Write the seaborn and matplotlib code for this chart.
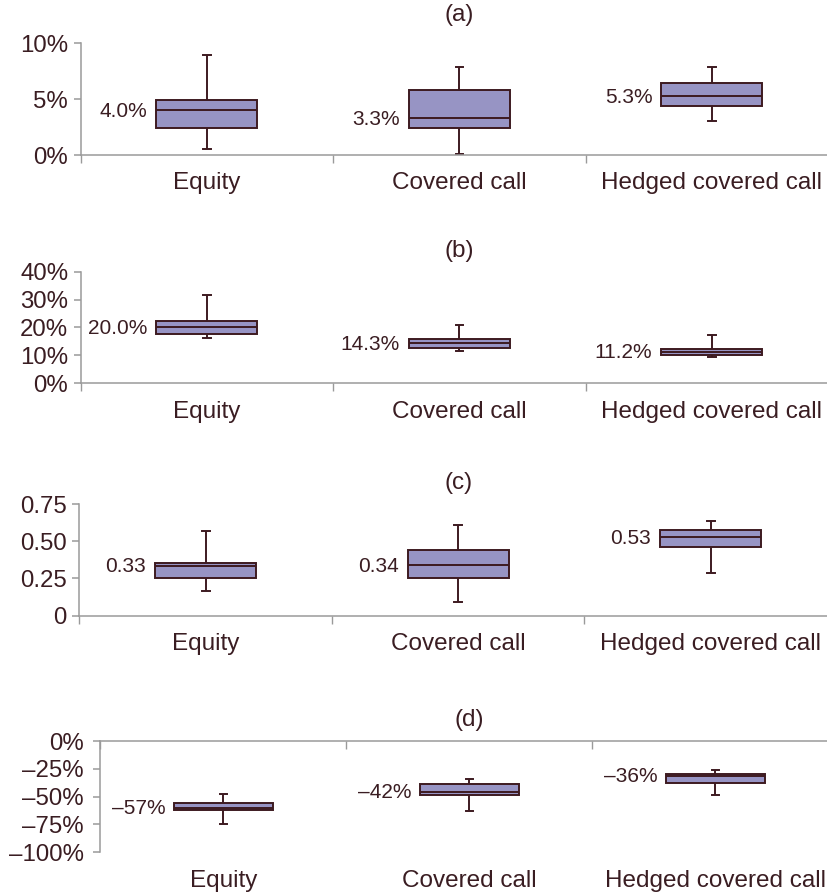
import numpy as np
import pandas as pd
import matplotlib
matplotlib.use("Agg")
import matplotlib.pyplot as plt
import seaborn as sns

# ---------------- data ----------------
categories = ["Equity", "Covered call", "Hedged covered call"]

# (a) return, %
a_low = [0.5, 0.1, 3.0]
a_q1 = [2.4, 2.4, 4.35]
a_med = [4.0, 3.3, 5.25]
a_q3 = [4.9, 5.8, 6.45]
a_high = [8.9, 7.9, 7.9]
a_labels = ["4.0%", "3.3%", "5.3%"]
a_ticks = [0, 5, 10]
a_ticklabels = ["0%", "5%", "10%"]

# (b) volatility, %
b_low = [16.2, 11.5, 9.4]
b_q1 = [17.7, 12.7, 10.1]
b_med = [20.0, 14.4, 11.3]
b_q3 = [22.3, 15.9, 12.4]
b_high = [31.6, 21.0, 17.3]
b_labels = ["20.0%", "14.3%", "11.2%"]
b_ticks = [0, 10, 20, 30, 40]
b_ticklabels = ["0%", "10%", "20%", "30%", "40%"]

# (c) Sharpe ratio
c_low = [0.168, 0.094, 0.289]
c_q1 = [0.253, 0.253, 0.464]
c_med = [0.334, 0.340, 0.527]
c_q3 = [0.352, 0.441, 0.576]
c_high = [0.567, 0.611, 0.634]
c_labels = ["0.33", "0.34", "0.53"]
c_ticks = [0, 0.25, 0.50, 0.75]
c_ticklabels = ["0", "0.25", "0.50", "0.75"]

# (d) maximum drawdown, %
d_low = [-74.3, -62.9, -48.5]
d_q1 = [-62.3, -48.2, -37.5]
d_med = [-59.9, -45.8, -31.2]
d_q3 = [-55.4, -38.6, -29.6]
d_high = [-47.9, -34.1, -26.1]
d_labels = ["\u201357%", "\u201342%", "\u201336%"]
d_ticks = [-100, -75, -50, -25, 0]
d_ticklabels = ["\u2013100%", "\u201375%", "\u201350%", "\u201325%", "0%"]

panel_titles = ["(a)", "(b)", "(c)", "(d)"]

# ---------------- style ----------------
TXT = "#3a1d22"
EDGE = "#3d1a20"
FILL = "#9794c4"
SPINE = "#9a9a9a"

plt.rcParams["font.family"] = ["Liberation Sans", "DejaVu Sans"]
plt.rcParams["text.color"] = TXT

W, H = 828, 896
fig = plt.figure(figsize=(W / 100, H / 100), dpi=100)


def make_df(low, q1, med, q3, high):
    rows = []
    for i, c in enumerate(categories):
        for v in (low[i], q1[i], med[i], q3[i], high[i]):
            rows.append({"cat": c, "val": v})
    return pd.DataFrame(rows)


panels = [
    (a_low, a_q1, a_med, a_q3, a_high, a_labels, a_ticks, a_ticklabels, (0, 10), 80.7, 252.5, 43, 155),
    (b_low, b_q1, b_med, b_q3, b_high, b_labels, b_ticks, b_ticklabels, (0, 40), 80.7, 252.5, 271.7, 383.3),
    (c_low, c_q1, c_med, c_q3, c_high, c_labels, c_ticks, c_ticklabels, (0, 0.75), 79.5, 252.5, 504, 615.7),
    (d_low, d_q1, d_med, d_q3, d_high, d_labels, d_ticks, d_ticklabels, (-100, 0), 100.5, 246, 741, 852.3),
]

for k, (lo, q1, md, q3, hi, labs, ticks, tlabs, ylim, left_px, unit_px, top_px, bot_px) in enumerate(panels):
    ax = fig.add_axes([left_px / W, 1 - bot_px / H, (W - left_px) / W, (bot_px - top_px) / H])
    df = make_df(lo, q1, md, q3, hi)
    sns.boxplot(data=df, x="cat", y="val", order=categories, whis=(0, 100),
                width=0.4, color=FILL, saturation=1, linecolor=EDGE,
                linewidth=1.4, capwidths=0.03, showfliers=False, ax=ax)
    ax.set_xlim(-0.5, -0.5 + (W - left_px) / unit_px)
    ax.set_ylim(*ylim)
    ax.set_xlabel("")
    ax.set_ylabel("")
    ax.set_facecolor("none")

    ax.set_yticks(ticks)
    ax.set_yticklabels(tlabs)
    ax.set_xticks(range(len(categories)))
    ax.set_xticklabels(categories)
    ax.set_xticks([-0.5, 0.5, 1.5], minor=True)

    ax.tick_params(axis="y", which="major", length=5, width=1.1, color=SPINE,
                   labelsize=17.3, labelcolor=TXT, pad=(7 if k == 3 else 4))
    ax.tick_params(axis="x", which="major", length=0, labelsize=17.5,
                   labelcolor=TXT, pad=12.5)

    for s in ["top", "right", "bottom", "left"]:
        ax.spines[s].set_visible(False)
    ax.spines["left"].set_visible(True)
    ax.spines["left"].set_color(SPINE)
    ax.spines["left"].set_linewidth(1.1)

    if k < 3:
        ax.spines["bottom"].set_visible(True)
        ax.spines["bottom"].set_color(SPINE)
        ax.spines["bottom"].set_linewidth(1.1)
        ax.tick_params(axis="x", which="minor", direction="out", length=6,
                       width=1.0, color=SPINE, bottom=True)
    else:
        ax.spines["top"].set_visible(True)
        ax.spines["top"].set_color(SPINE)
        ax.spines["top"].set_linewidth(1.1)
        ax.tick_params(axis="x", which="minor", direction="in", length=6,
                       width=1.0, color=SPINE, top=True, bottom=False)

    for i in range(len(categories)):
        ax.annotate(labs[i], xy=(i - 0.2, md[i]), xytext=(-9, -1),
                    textcoords="offset pixels", ha="right", va="center",
                    fontsize=15, color=TXT)

    ax.annotate(panel_titles[k], xy=(1, 1), xycoords=("data", "axes fraction"),
                xytext=(0, 28 if k == 0 else 21), textcoords="offset pixels",
                ha="center", va="center", fontsize=17.5, color=TXT)

fig.savefig("out.png", dpi=100)
